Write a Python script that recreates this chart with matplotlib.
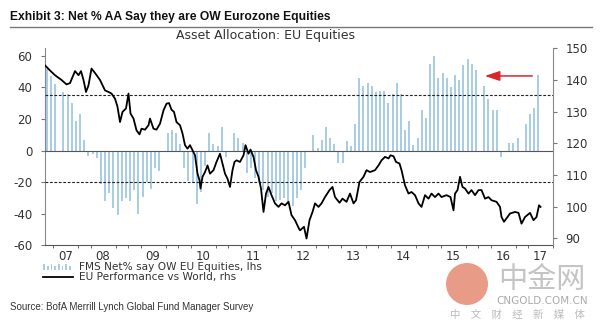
import numpy as np
import pandas as pd
import matplotlib
matplotlib.use('Agg')
import matplotlib.pyplot as plt
from matplotlib.legend_handler import HandlerBase
from matplotlib.patches import Rectangle, Circle
from matplotlib.lines import Line2D
from matplotlib.transforms import IdentityTransform

plt.rcParams['font.family'] = ['DejaVu Sans', 'Noto Sans CJK SC']
plt.rcParams['axes.unicode_minus'] = False

# FMS net % overweight Eurozone equities (lhs), monthly
fms_months = pd.date_range('2007-05-01', periods=119, freq='MS')
fms_net = [52, 47, 42, np.nan, 37, 36, 30, 19, 23, 7,
           -3.6, -2, -4.7, -21, -32, -27, -36, -41, -32, -30,
           -32, -25, -40, -29, -19.6, -24, -11, -13, -1, 11,
           13, 11.5, 4, -11, -19, -20, -34, -26, -10, 11,
           4, 3, 15, -4, -1, 11, 8, 5,
           -14, -11, -17, -20, -25, -29, -27, -32, -31, -30, -33, -35, -30, -25, -11,
           0, 10, 2, 7, 15, 8, 4, -8, -8, 6,
           3, 17, 46, 41, 43, 41, 37, 38, 38, 30,
           36, 43, 36, 13, 18.5, 3.6, 8, 26, 20.6, 55,
           60, 46, 49, 46, 40, 48, 45, 54, 58, 55,
           51, np.nan, 41, 33, 26, 26, -4, -0.5, 5, 5,
           8, -1, 17, 23, 27, 48]

# EU performance vs World (rhs), decimal years
perf_t = [2007.34, 2007.44, 2007.54, 2007.67, 2007.77, 2007.84, 2007.94, 2008.01, 2008.06, 2008.11,
          2008.16, 2008.21, 2008.27, 2008.34, 2008.44, 2008.54, 2008.61, 2008.67, 2008.74, 2008.79,
          2008.84, 2008.89, 2008.96, 2009.01, 2009.05, 2009.11, 2009.17, 2009.23, 2009.27, 2009.34,
          2009.41, 2009.44, 2009.51, 2009.57, 2009.64, 2009.71, 2009.77, 2009.82, 2009.87, 2009.92,
          2009.97, 2010.04, 2010.09, 2010.14, 2010.19, 2010.24, 2010.29, 2010.34, 2010.39, 2010.43,
          2010.45, 2010.49, 2010.54, 2010.59, 2010.64, 2010.71, 2010.77, 2010.84, 2010.89, 2010.94,
          2010.99, 2011.04, 2011.09, 2011.13, 2011.17, 2011.24, 2011.31, 2011.35, 2011.41, 2011.45,
          2011.51, 2011.56, 2011.61, 2011.66, 2011.71, 2011.76, 2011.81, 2011.87, 2011.94, 2012.01,
          2012.07, 2012.14, 2012.21, 2012.27, 2012.34, 2012.42, 2012.44, 2012.52, 2012.57, 2012.63,
          2012.69, 2012.74, 2012.81, 2012.87, 2012.94, 2013.03, 2013.09, 2013.14, 2013.23, 2013.29,
          2013.37, 2013.44, 2013.51, 2013.56, 2013.63, 2013.71, 2013.77, 2013.84, 2013.94, 2014.01,
          2014.07, 2014.14, 2014.21, 2014.25, 2014.31, 2014.36, 2014.43, 2014.47, 2014.54, 2014.61,
          2014.67, 2014.74, 2014.81, 2014.87, 2014.94, 2015.01, 2015.07, 2015.14, 2015.21, 2015.27,
          2015.37, 2015.45, 2015.51, 2015.54, 2015.59, 2015.64, 2015.69, 2015.74, 2015.81, 2015.87,
          2015.94, 2016.01, 2016.07, 2016.14, 2016.21, 2016.27, 2016.37, 2016.44, 2016.47, 2016.52,
          2016.59, 2016.64, 2016.74, 2016.81, 2016.87, 2016.94, 2017.04, 2017.11, 2017.17, 2017.22,
          2017.25]
perf_val = [144.6, 143, 141.5, 140, 138.6, 139, 142.8, 141.5, 142.8, 140,
            136.2, 138.3, 143.6, 142.2, 140, 136.7, 136.2, 135.7, 134.1, 131.5,
            126.7, 129.9, 131, 135.7, 129.4, 127.8, 124.1, 122.8, 124.6, 124.3,
            125.7, 127.8, 124.6, 124.3, 126.2, 130.4, 132.5, 132.7, 130.6, 129.9,
            126.7, 125.7, 123.1, 119.4, 118.3, 119.4, 117.8, 116.2, 110.4, 108.3,
            105.7, 109.4, 110.9, 113, 110.4, 111.5, 114.1, 116.7, 113.6, 110.4,
            108.8, 106.2, 111.5, 114.1, 114.6, 114.1, 116.2, 119.4, 116.7, 118,
            115.7, 111.5, 109.4, 105.7, 98.3, 104.1, 106.2, 103.6, 101, 99.9,
            101, 100.4, 101.5, 97.3, 95.7, 93, 92.5, 93.6, 89.9, 95.7,
            98.3, 101, 99.9, 101, 103, 105.2, 106.2, 103, 101.2, 102.5,
            101.5, 104.1, 101, 102, 107.8, 109.4, 111.5, 110.9, 111.5, 113,
            114.6, 115.7, 115.2, 116.2, 115.9, 114.1, 113.6, 111.5, 106.7, 104.1,
            104.6, 103.6, 101, 99.9, 103.6, 102.5, 104.1, 103, 104.1, 103,
            103.6, 103, 98.8, 104.1, 105.2, 109.4, 106.2, 105.7, 104.1, 105.2,
            103.6, 105.2, 105.2, 102.5, 103, 102, 101.5, 99.9, 96.7, 95.2,
            96.7, 97.8, 98.3, 98, 94.6, 96.7, 98, 95.7, 96.7, 100.4,
            99.9]

year_labels = ['07', '08', '09', '10', '11', '12', '13', '14', '15', '16', '17']
label_pos = [2007.75, 2008.5, 2009.5, 2010.5, 2011.5, 2012.5, 2013.5, 2014.5, 2015.5, 2016.5, 2017.25]

bar_color = '#a9cde3'
arial = ['Liberation Sans', 'DejaVu Sans']


class BarsHandler(HandlerBase):
    # little "lılılı" bar glyph for the legend
    def create_artists(self, legend, orig_handle, xdescent, ydescent, width, height, fontsize, trans):
        arts = []
        n = 8
        for k in range(n):
            h = height * (1.0 if k % 2 == 0 else 0.65)
            x0 = -xdescent + k * width / n
            arts.append(Rectangle((x0, -ydescent), width / n * 0.45, h,
                                  facecolor=bar_color, edgecolor='none', transform=trans))
        return arts


fig = plt.figure(figsize=(6, 3.24), dpi=100)
ax = fig.add_axes([0.075, 0.2423, 0.8467, 0.6096])
ax2 = ax.twinx()

bar_x = fms_months.year + (fms_months.month - 0.5) / 12
bars = ax.bar(bar_x, fms_net, width=0.04, color=bar_color, linewidth=0,
              antialiased=False, zorder=2)
ax.axhline(0, color='#555555', lw=0.8, zorder=3)
for lvl in (35, -20):
    ax.axhline(lvl, color='#222222', lw=0.8, ls=(0, (2.5, 1.5)), zorder=3)

line, = ax2.plot(perf_t, perf_val, color='black', lw=1.3, zorder=4)

ax.set_xlim(2007.34, 2017.5)
ax.set_ylim(-60, 65)
ax2.set_ylim(87.7, 150.1)
ax.set_yticks(range(-60, 61, 20))
ax2.set_yticks(range(90, 151, 10))

ax.set_xticks(label_pos)
ax.set_xticklabels(year_labels)
ax.set_xticks(np.arange(2007.5, 2017.6, 0.25), minor=True)
ax.tick_params(axis='x', which='major', length=0, pad=3, labelsize=8.5, labelcolor='#333333')
ax.tick_params(axis='x', which='minor', length=2.5, color='#555555')
ax.tick_params(axis='y', length=3, color='#777777', labelsize=8.5, labelcolor='#333333', pad=6)
ax2.tick_params(axis='y', length=3, color='#777777', labelsize=8.5, labelcolor='#333333', pad=6)

for s in ('top', 'right'):
    ax.spines[s].set_visible(False)
for s in ('top', 'left', 'bottom'):
    ax2.spines[s].set_visible(False)
ax.spines['left'].set_color('#888888')
ax.spines['bottom'].set_color('#555555')
ax2.spines['right'].set_color('#888888')

ax.annotate('', xy=(2016.08, 47.3), xytext=(2017.14, 47.3),
            arrowprops=dict(arrowstyle='-|>,head_length=0.9,head_width=0.3',
                            color='#d9262b', lw=1.1, mutation_scale=10), zorder=5)

fig.legend([bars, line],
           ['FMS Net% say OW EU Equities, lhs', 'EU Performance vs World, rhs'],
           handler_map={type(bars): BarsHandler()},
           loc='upper left', bbox_to_anchor=(0.072, 0.19), frameon=False,
           fontsize=7.6, handlelength=2.8, handleheight=0.55, handletextpad=0.55,
           labelspacing=0.0, borderpad=0, borderaxespad=0, labelcolor='#333333')

fig.text(10 / 600, 1 - 17 / 324, 'Exhibit 3: Net % AA Say they are OW Eurozone Equities',
         fontsize=8.7, fontweight='bold', family=arial, va='center', color='#111111')
fig.add_artist(Line2D([10 / 600, 592 / 600], [1 - 27 / 324] * 2, color='#777777', lw=1))
fig.text(266 / 600, 1 - 35 / 324, 'Asset Allocation: EU Equities',
         fontsize=9, ha='center', va='center', color='#333333')
fig.text(10 / 600, 1 - 307 / 324, 'Source: BofA Merrill Lynch Global Fund Manager Survey',
         fontsize=7, family=arial, va='center', color='#333333')

# watermark
fig.add_artist(Circle((467, 324 - 284), 21, transform=IdentityTransform(),
                      facecolor='#e58b72', edgecolor='none', alpha=0.85))
fig.text(542 / 600, 1 - 280 / 324, '中金网', fontsize=21, ha='center', va='center',
         color='#c4c4c4', family=['Noto Sans CJK SC'])
fig.text(542 / 600, 1 - 301 / 324, 'CNGOLD.COM.CN', fontsize=7.5, ha='center', va='center',
         color='#aaaaaa')
fig.text(517 / 600, 1 - 315 / 324, '中\u3000文\u3000财\u3000经\u3000新\u3000媒\u3000体',
         fontsize=7.5, ha='center', va='center', color='#bbbbbb', family=['Noto Sans CJK SC'])

fig.savefig('out.png', dpi=100)
